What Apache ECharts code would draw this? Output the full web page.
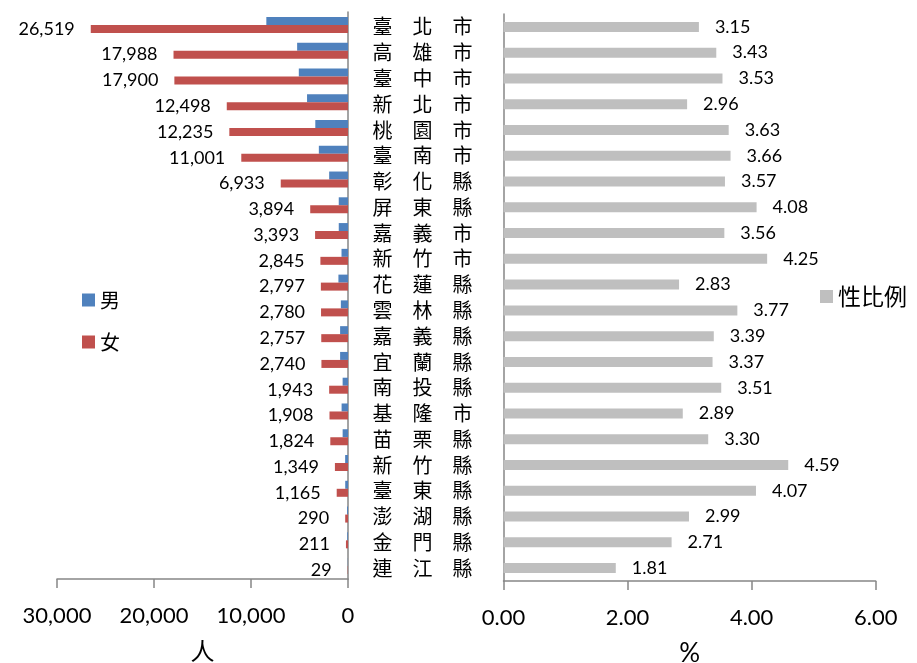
<!DOCTYPE html>
<html>
<head>
<meta charset="utf-8">
<script src="https://cdn.jsdelivr.net/npm/echarts@6/dist/echarts.min.js"></script>
<style>
  html, body { margin: 0; padding: 0; background: #fff; }
  #chart { width: 917px; height: 663px; }
</style>
</head>
<body>
<div id="chart"></div>
<script>
// 縣市（由上而下）
const counties = ['臺北市','高雄市','臺中市','新北市','桃園市','臺南市','彰化縣','屏東縣','嘉義市','新竹市',
  '花蓮縣','雲林縣','嘉義縣','宜蘭縣','南投縣','基隆市','苗栗縣','新竹縣','臺東縣','澎湖縣','金門縣','連江縣'];
// 男（人）
const male = [8419, 5244, 5071, 4222, 3371, 3006, 1942, 954, 953, 669,
  988, 737, 813, 813, 554, 660, 553, 294, 286, 97, 78, 16];
// 女（人）
const female = [26519, 17988, 17900, 12498, 12235, 11001, 6933, 3894, 3393, 2845,
  2797, 2780, 2757, 2740, 1943, 1908, 1824, 1349, 1165, 290, 211, 29];
// 性比例（%）
const ratio = [3.15, 3.43, 3.53, 2.96, 3.63, 3.66, 3.57, 4.08, 3.56, 4.25,
  2.83, 3.77, 3.39, 3.37, 3.51, 2.89, 3.30, 4.59, 4.07, 2.99, 2.71, 1.81];
// 座標軸刻度
const peopleTicks = [0, 10000, 20000, 30000];
const ratioTicks = [0, 2, 4, 6];

const numFont = 'Lato, "Liberation Sans", sans-serif';
const cjkFont = '"Noto Sans CJK TC", "Noto Sans CJK SC", sans-serif';
const axisColor = '#868686';
const withCommas = v => String(v).replace(/\B(?=(\d{3})+(?!\d))/g, ',');
const spaced = s => s.split('').join('\u3000');

const chart = echarts.init(document.getElementById('chart'), null, { renderer: 'canvas' });
chart.setOption({
  animation: false,
  backgroundColor: '#ffffff',
  legend: [
    {
      data: ['男', '女'],
      orient: 'vertical',
      left: 82, top: 290, padding: 0,
      itemWidth: 13, itemHeight: 13, itemGap: 22,
      icon: 'rect',
      textStyle: { fontFamily: cjkFont, fontSize: 20, color: '#000' }
    },
    {
      data: ['性比例'],
      left: 820, top: 285, padding: 0,
      itemWidth: 13, itemHeight: 13, itemGap: 4,
      icon: 'rect',
      textStyle: { fontFamily: cjkFont, fontSize: 23, color: '#000' }
    }
  ],
  grid: [
    { left: 57, width: 291, top: 12, height: 567, containLabel: false, outerBoundsMode: 'none' },
    { left: 503.5, width: 372.2, top: 14, height: 567, containLabel: false, outerBoundsMode: 'none' }
  ],
  xAxis: [
    {
      gridIndex: 0, type: 'value', inverse: true,
      min: peopleTicks[0], max: peopleTicks[peopleTicks.length - 1], interval: peopleTicks[1] - peopleTicks[0],
      name: '人', nameLocation: 'middle', nameGap: 60,
      nameTextStyle: { fontFamily: cjkFont, fontSize: 24, color: '#000' },
      axisLine: { show: true, lineStyle: { color: axisColor, width: 1.5 } },
      axisTick: { show: true, length: 9, lineStyle: { color: axisColor, width: 1.5 } },
      axisLabel: { margin: 26, fontFamily: numFont, fontSize: 22, color: '#000', formatter: v => withCommas(v) },
      splitLine: { show: false }
    },
    {
      gridIndex: 1, type: 'value',
      min: ratioTicks[0], max: ratioTicks[ratioTicks.length - 1], interval: ratioTicks[1] - ratioTicks[0],
      name: '%', nameLocation: 'middle', nameGap: 60,
      nameTextStyle: { fontFamily: numFont, fontSize: 26, color: '#000' },
      axisLine: { show: true, lineStyle: { color: axisColor, width: 1.5 } },
      axisTick: { show: true, length: 9, lineStyle: { color: axisColor, width: 1.5 } },
      axisLabel: { margin: 26, fontFamily: numFont, fontSize: 22, color: '#000', formatter: v => v.toFixed(2) },
      splitLine: { show: false }
    }
  ],
  yAxis: [
    {
      gridIndex: 0, type: 'category', data: counties, inverse: true, position: 'right',
      axisLine: { show: true, lineStyle: { color: axisColor, width: 1.5 } },
      axisTick: { show: false },
      axisLabel: { show: false }
    },
    {
      gridIndex: 1, type: 'category', data: counties, inverse: true, position: 'left',
      axisLine: { show: true, lineStyle: { color: axisColor, width: 1.5 } },
      axisTick: { show: false },
      axisLabel: {
        interval: 0, margin: 31, fontFamily: cjkFont, fontSize: 20, color: '#000',
        formatter: v => spaced(v)
      }
    }
  ],
  series: [
    {
      name: '男', type: 'bar', xAxisIndex: 0, yAxisIndex: 0,
      data: male, barWidth: 8, barGap: '0%',
      itemStyle: { color: '#4F81BD' }
    },
    {
      name: '女', type: 'bar', xAxisIndex: 0, yAxisIndex: 0,
      data: female, barWidth: 8, barGap: '0%',
      itemStyle: { color: '#C0504D' },
      label: {
        show: true, position: 'left', distance: 16,
        fontFamily: numFont, fontSize: 18, color: '#000',
        formatter: p => withCommas(p.value)
      }
    },
    {
      name: '性比例', type: 'bar', xAxisIndex: 1, yAxisIndex: 1,
      data: ratio, barWidth: 10,
      itemStyle: { color: '#BFBFBF' },
      label: {
        show: true, position: 'right', distance: 16,
        fontFamily: numFont, fontSize: 18, color: '#000',
        formatter: p => p.value.toFixed(2)
      }
    }
  ]
});
</script>
</body>
</html>
